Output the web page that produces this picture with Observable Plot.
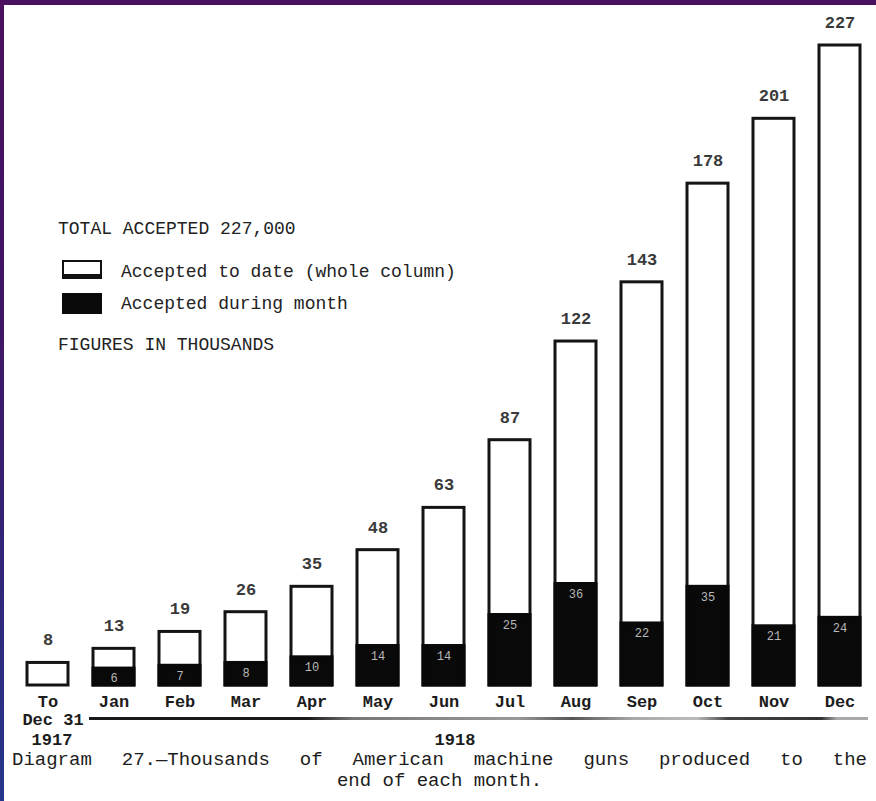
<!DOCTYPE html>
<html>
<head>
<meta charset="utf-8">
<script src="https://cdn.jsdelivr.net/npm/d3@7"></script>
<script src="https://cdn.jsdelivr.net/npm/@observablehq/plot@0.6"></script>
<style>
  html, body { margin: 0; padding: 0; }
  body {
    width: 876px; height: 801px; overflow: hidden; position: relative;
    background: linear-gradient(180deg, #4b0f5f 0%, #3d1768 45%, #25368a 100%);
    font-family: "Liberation Mono", "DejaVu Sans Mono", monospace; color: #1c1c1c;
  }
  #page { position: absolute; left: 4px; top: 5px; right: 0; bottom: 0; background: #fff; }
  #chart { position: absolute; left: 0; top: 0; }
  .lg { position: absolute; font-size: 18px; line-height: 18px; white-space: nowrap; color: #222; }
  .sw { position: absolute; left: 62px; width: 40px; box-sizing: border-box; }
  #rule { position: absolute; left: 89px; top: 717px; width: 779px; height: 3px;
    background: linear-gradient(90deg, #1a1a1a 0%, #1a1a1a 28%, #777 34%, #999 55%, #555 62%, #aaa 70%, #bbb 78%, #444 82%, #333 94%, #aaa 96%, #aaa 100%); }
  #caption { position: absolute; left: 12px; top: 750px; width: 855px; font-size: 19px; line-height: 21px; color: #1c1c1c; }
  #caption .l1 { text-align: justify; text-align-last: justify; white-space: nowrap; }
  #caption .l2 { text-align: center; }
</style>
</head>
<body>
<div id="page"></div>
<div id="chart"></div>
<div class="lg" style="left:58px; top:220px;">TOTAL ACCEPTED 227,000</div>
<div class="sw" style="top:260px; height:19px; border:2px solid #111; border-bottom-width:5px; background:#fff;"></div>
<div class="lg" style="left:121px; top:263px;">Accepted to date (whole column)</div>
<div class="sw" style="top:293px; height:21px; background:#0a0a0a;"></div>
<div class="lg" style="left:121px; top:295px;">Accepted during month</div>
<div class="lg" style="left:58px; top:336px;">FIGURES IN THOUSANDS</div>
<div id="rule"></div>
<div id="caption">
  <div class="l1">Diagram 27.—Thousands of American machine guns produced to the</div>
  <div class="l2">end of each month.</div>
</div>
<script>
// Categories (x), tick labels, and values (thousands of machine guns)
const categories = ["To Dec 31 1917", "Jan", "Feb", "Mar", "Apr", "May", "Jun", "Jul", "Aug", "Sep", "Oct", "Nov", "Dec"];
const tickLabels = ["To", "Jan", "Feb", "Mar", "Apr", "May", "Jun", "Jul", "Aug", "Sep", "Oct", "Nov", "Dec"];
const cumulative = [8, 13, 19, 26, 35, 48, 63, 87, 122, 143, 178, 201, 227];
const monthly = [null, 6, 7, 8, 10, 14, 14, 25, 36, 22, 35, 21, 24];
const dateLine = [{ cat: "To Dec 31 1917", text: "Dec 31" }];
const yearLine = [
  { cat: "To Dec 31 1917", text: "1917" },
  { cat: "Jun", text: "1918" }
];

const data = categories.map((c, i) => ({ cat: c, label: tickLabels[i], total: cumulative[i], month: monthly[i] }));
const monthData = data.filter(d => d.month != null);
const txt = { frameAnchor: "bottom", fontSize: 17, fontWeight: "bold", fill: "#1c1c1c", lineAnchor: "middle" };

const plot = Plot.plot({
  width: 876,
  height: 801,
  marginTop: 45,
  marginBottom: 116,
  marginLeft: 10,
  marginRight: 0,
  style: { background: "transparent", fontFamily: "Liberation Mono, DejaVu Sans Mono, monospace", overflow: "visible" },
  x: { domain: categories, paddingInner: 0.38, paddingOuter: 0.19, axis: null },
  y: { domain: [0, 227], axis: null },
  marks: [
    Plot.barY(data, { x: "cat", y: "total", fill: "#fff", stroke: "#141414", strokeWidth: 3 }),
    Plot.barY(monthData, { x: "cat", y: "month", fill: "#090909", stroke: "#090909", strokeWidth: 3 }),
    Plot.text(data, { x: "cat", y: "total", text: d => String(d.total), dy: -23, fontSize: 17, fontWeight: "bold", fill: "#3a3a3a", lineAnchor: "middle" }),
    Plot.text(monthData, { x: "cat", y: "month", text: d => String(d.month), dy: 10, fontSize: 12, fill: "#b8b8b8", lineAnchor: "middle" }),
    Plot.text(data, { x: "cat", text: "label", dy: 16, ...txt }),
    Plot.text(dateLine, { x: "cat", text: "text", dy: 34, dx: 5, ...txt }),
    Plot.text(yearLine.slice(0, 1), { x: "cat", text: "text", dy: 54, dx: 4, ...txt }),
    Plot.text(yearLine.slice(1), { x: "cat", text: "text", dy: 54, dx: 11, ...txt })
  ]
});
document.getElementById("chart").appendChild(plot);
</script>
</body>
</html>
